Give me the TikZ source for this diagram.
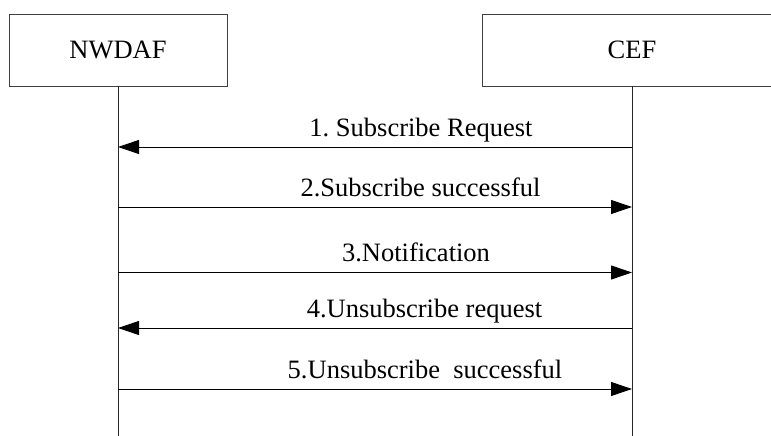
\documentclass[tikz,border=0pt]{standalone}
\usepackage{fontspec}
\setmainfont{Liberation Serif}
\usetikzlibrary{arrows.meta}
\frenchspacing

\begin{document}
\begin{tikzpicture}[x=1pt,y=1pt,
    entity/.style={draw=black!75,line width=0.8pt,minimum height=72pt,
                   font=\fontsize{26.5}{30}\selectfont},
    life/.style={line width=0.8pt,black!85},
    msg/.style={line width=0.9pt,-{Triangle[length=21pt,width=14pt]}},
    lbl/.style={midway,anchor=base,inner sep=0pt,yshift=10.5pt,
                font=\fontsize{26.5}{30}\selectfont}]
   \useasboundingbox (0,0) rectangle (771,436) ;
   % entities
   \node[entity,minimum width=218pt] (nwdaf) at (118,386) {NWDAF} ;
   \node[entity,minimum width=300pt] (cef) at (632,386) {CEF} ;
   \coordinate (nwdafend) at (118,0) ;
   \coordinate (cefend) at (632,0) ;
   \draw[life] (nwdaf.south) -- (nwdafend) ;
   \draw[life] (cef.south) -- (cefend) ;
   % points on the lifelines
   \foreach \i/\y in {1/289,2/229,3/163.5,4/108,5/47} {
      \coordinate (n\i) at (118,\y) ;
      \coordinate (c\i) at (632,\y) ;
   }
   % messages
   \draw[msg] (c1) -- (n1) node[lbl,xshift=46pt] {1. Subscribe Request} ;
   \draw[msg] (n2) -- (c2) node[lbl,xshift=45.5pt] {2.Subscribe successful} ;
   \draw[msg] (n3) -- (c3) node[lbl,xshift=41pt] {3.Notification} ;
   \draw[msg] (c4) -- (n4) node[lbl,xshift=49.5pt] {4.Unsubscribe request} ;
   \draw[msg] (n5) -- (c5) node[lbl,xshift=50pt] {5.Unsubscribe\ \ successful} ;
\end{tikzpicture}
\end{document}
